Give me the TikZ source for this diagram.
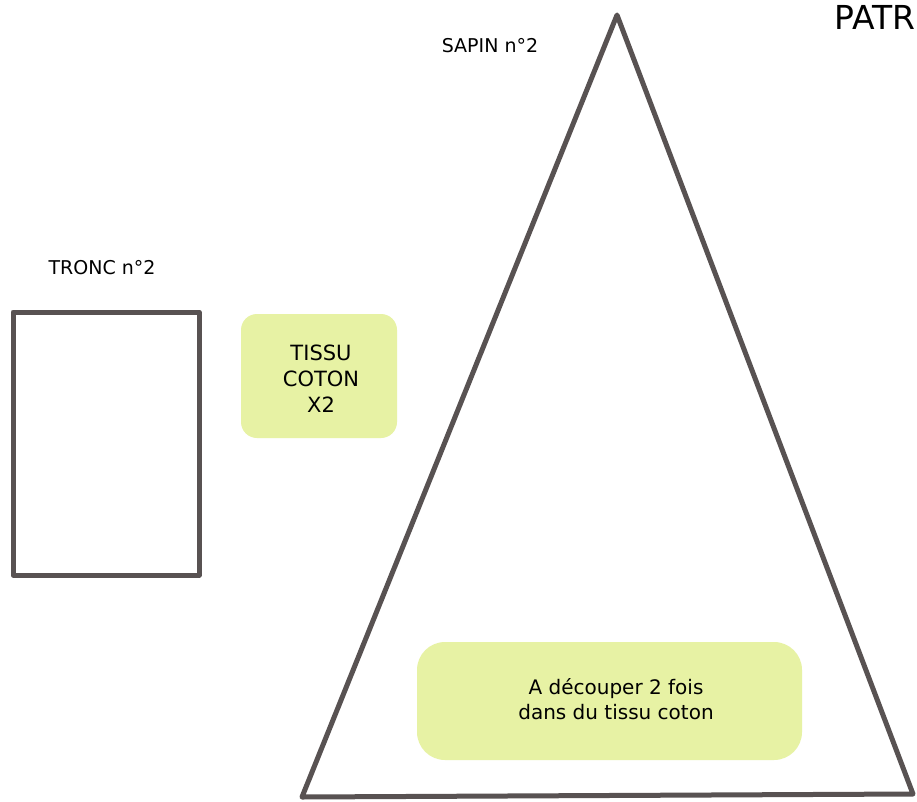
\documentclass[tikz,border=0pt]{standalone}
\usepackage{fontspec}
\setmainfont{DejaVu Sans}
\definecolor{ink}{RGB}{88,82,82}
\definecolor{lime}{RGB}{231,242,164}
\tikzset{
  outline/.style={draw=ink, line width=5pt, line join=round, line cap=round},
  notebox/.style={fill=lime, draw=none, rounded corners=#1},
  lbl/.style={font=\fontsize{19}{22}\selectfont, text=black, inner sep=0pt},
  notetxt/.style={font=\fontsize{#1}{#1}\selectfont, text=black, align=center, inner sep=0pt}
}
\begin{document}
\begin{tikzpicture}[x=1pt,y=-1pt]
\useasboundingbox[fill=white] (0,0) rectangle (917,802);
% tree triangle
\coordinate (apex) at (617,15);
\coordinate (bl) at (302,797);
\coordinate (br) at (913,794);
\draw[outline] (apex) -- (br) -- (bl) -- cycle;
% trunk
\draw[outline] (13,312) rectangle (199,575);
% note boxes
\fill[notebox=16pt] (241,314) rectangle (397,438);
\fill[notebox=28pt] (417,642) rectangle (802,760);
\node[notetxt=21, text width=150pt] (tissu) at (321,379) {TISSU\\[5pt]COTON\\[5pt]X2};
\node[notetxt=20] (decoup) at (616,699) {A d\'ecouper 2 fois\\[5pt]dans du tissu coton};
% labels
\node[lbl] (sapin) at (490,46) {SAPIN n°2};
\node[lbl] (tronc) at (102,268) {TRONC n°2};
\node[font=\fontsize{33}{36}\selectfont, anchor=east, inner sep=0pt] (patr) at (916,17) {PATR};
\end{tikzpicture}
\end{document}
